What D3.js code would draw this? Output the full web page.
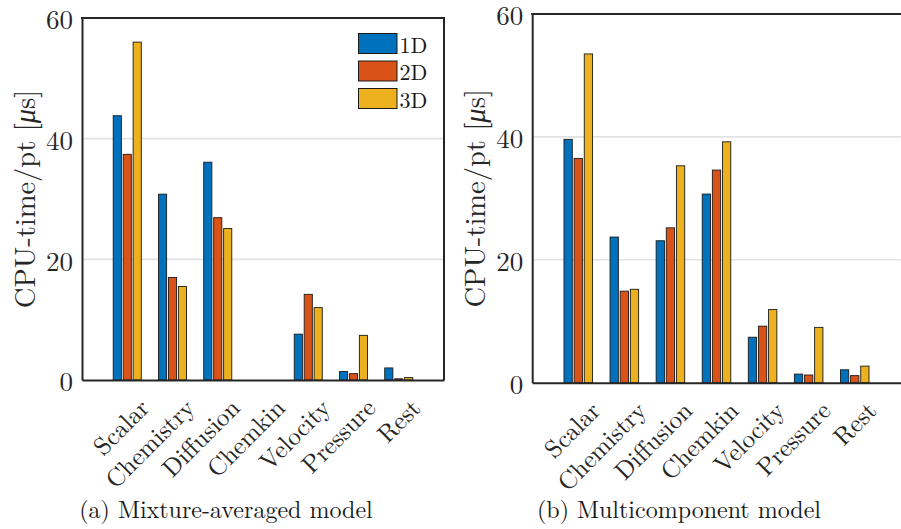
<!DOCTYPE html>
<html><head><meta charset="utf-8">
<script src="https://cdn.jsdelivr.net/npm/d3@7"></script>
<style>
body{margin:0;background:#fff}
svg{display:block}
</style>
</head><body>
<svg id="c" width="901" height="529"></svg>
<script>
const categories = ["Scalar","Chemistry","Diffusion","Chemkin","Velocity","Pressure","Rest"];
const seriesNames = ["1D","2D","3D"];
const mixAvg1D = [43.8,30.8,36.1,0,7.6,1.4,2.0];
const mixAvg2D = [37.4,17.0,26.9,0,14.2,1.05,0.2];
const mixAvg3D = [56.0,15.5,25.1,0,12.0,7.4,0.4];
const multi1D = [39.6,23.7,23.1,30.7,7.4,1.4,2.1];
const multi2D = [36.5,14.9,25.2,34.6,9.2,1.25,1.15];
const multi3D = [53.5,15.2,35.3,39.2,11.9,9.0,2.7];
const yTicks = [0,20,40,60];
const gridTicks = [20,40];
const captions = ["(a) Mixture-averaged model","(b) Multicomponent model"];
const yLabel = "CPU-time/pt [";
const colors = ["#0072BD","#D95319","#EDB120"];

const FONT = '"Latin Modern Roman", "Liberation Serif", serif';
const svg = d3.select("#c").attr("font-family", FONT);
const panels = [
  {series:[mixAvg1D,mixAvg2D,mixAvg3D], x0:82, x1:444, yTop:18, yBot:380, legend:true, yLabX:35, capX:226, rightBorder:true},
  {series:[multi1D,multi2D,multi3D], x0:532.2, x1:900.8, yTop:14, yBot:382.7, legend:false, yLabX:485, capX:679, rightBorder:false}
];

panels.forEach((p, pi) => {
  const g = svg.append("g");
  const x = d3.scaleLinear().domain([0, categories.length + 1]).range([p.x0, p.x1]);
  const y = d3.scaleLinear().domain([0, 60]).range([p.yBot, p.yTop]);
  const bw = 0.18, off = 0.22;

  // grid
  g.selectAll(".grid").data(gridTicks).join("line")
    .attr("x1", p.x0).attr("x2", p.x1)
    .attr("y1", d => y(d)).attr("y2", d => y(d))
    .attr("stroke", "#e2e2e2").attr("stroke-width", 1.6);

  // bars
  p.series.forEach((vals, j) => {
    g.append("g").selectAll("rect").data(vals).join("rect")
      .attr("x", (d, i) => x(i + 1 + (j - 1) * off - bw / 2))
      .attr("width", x(bw) - x(0))
      .attr("y", d => y(d))
      .attr("height", d => y(0) - y(d))
      .attr("fill", colors[j])
      .attr("stroke", "#1a1a1a").attr("stroke-width", 0.9);
  });

  // y axis
  const ya = g.append("g").attr("transform", `translate(${p.x0},0)`)
    .call(d3.axisLeft(y).tickValues(yTicks).tickSize(0).tickPadding(9).tickFormat(d3.format("d")));
  ya.attr("font-family", FONT);
  ya.select(".domain").attr("stroke", "#262626").attr("stroke-width", 2);
  ya.selectAll("text").attr("font-family", FONT).attr("font-size", 27)
    .attr("fill", "#262626").attr("dy", "0.4em");

  // x axis
  const xa = g.append("g").attr("transform", `translate(0,${p.yBot})`)
    .call(d3.axisBottom(x).tickValues(d3.range(1, categories.length + 1)).tickSize(0)
      .tickFormat(d => categories[d - 1]));
  xa.attr("font-family", FONT);
  xa.select(".domain").attr("stroke", "#262626").attr("stroke-width", 2);
  xa.selectAll("text").attr("font-family", FONT).attr("font-size", 25)
    .attr("fill", "#262626").attr("x", 0).attr("y", 0).attr("dy", 0)
    .attr("text-anchor", "end").attr("transform", "translate(23,29.5) rotate(-45)");

  // box top/right
  g.append("line").attr("x1", p.x0 - 1).attr("x2", p.x1 + 1).attr("y1", p.yTop).attr("y2", p.yTop)
    .attr("stroke", "#262626").attr("stroke-width", 2);
  if (p.rightBorder) {
    g.append("line").attr("x1", p.x1).attr("x2", p.x1).attr("y1", p.yTop).attr("y2", p.yBot)
      .attr("stroke", "#262626").attr("stroke-width", 2);
  }

  // y label
  const yl = g.append("text")
    .attr("transform", `translate(${p.yLabX},${(p.yTop + p.yBot) / 2}) rotate(-90)`)
    .attr("text-anchor", "middle").attr("font-size", 28.5).attr("fill", "#262626")
    .attr("font-family", FONT);
  yl.append("tspan").text(yLabel);
  yl.append("tspan").attr("font-style", "italic").text("μ");
  yl.append("tspan").text("s]");

  // legend
  if (p.legend) {
    const lg = g.append("g");
    seriesNames.forEach((name, j) => {
      lg.append("rect").attr("x", 358.5).attr("y", 33.5 + j * 27.5).attr("width", 38.5).attr("height", 20)
        .attr("fill", colors[j]).attr("stroke", "#1a1a1a").attr("stroke-width", 1);
      lg.append("text").attr("x", 399.5).attr("y", 52.5 + j * 27.5).attr("font-size", 22)
        .attr("font-family", FONT).attr("fill", "#1a1a1a").text(name);
    });
  }

  // caption
  svg.append("text").attr("x", p.capX).attr("y", 518).attr("text-anchor", "middle")
    .attr("font-family", FONT).attr("font-size", 24).attr("fill", "#1a1a1a").text(captions[pi]);
});
</script>
</body></html>
